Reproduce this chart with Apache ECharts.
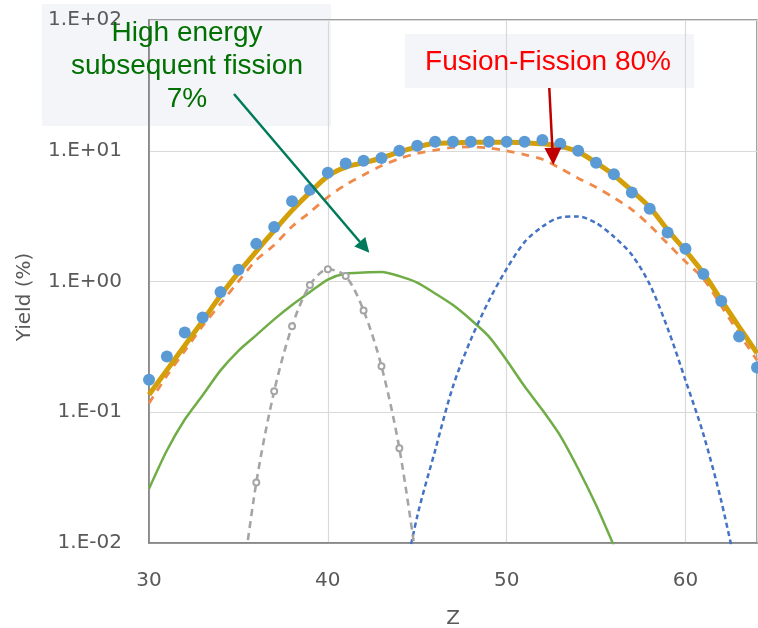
<!DOCTYPE html>
<html>
<head>
<meta charset="utf-8">
<script src="https://cdn.jsdelivr.net/npm/echarts@6/dist/echarts.min.js"></script>
<style>html,body{margin:0;padding:0;background:#fff;}#chart{width:758px;height:628px;}</style>
</head>
<body>
<div id="chart"></div>
<script>
// ---- data ----
const zExp = [30,31,32,33,34,35,36,37,38,39,40,41,42,43,44,45,46,47,48,49,50,51,52,53,54,55,56,57,58,59,60,61,62,63,64];
const yieldExp = [0.177,0.267,0.407,0.53,0.83,1.23,1.94,2.61,4.11,5.04,6.8,8.0,8.4,8.8,10.0,10.9,11.7,11.7,11.7,11.7,11.7,11.7,12.1,11.3,10.0,8.1,6.6,4.8,3.6,2.37,1.78,1.14,0.71,0.38,0.22];
const sumFit = [0.136,0.21,0.324,0.50,0.78,1.17,1.70,2.45,3.5,4.8,6.4,7.5,8.1,8.8,9.8,10.7,11.4,11.5,11.6,11.6,11.6,11.5,11.3,10.8,9.8,8.1,6.5,4.95,3.7,2.48,1.72,1.16,0.72,0.45,0.283];
const fusionFission = [0.117,0.19,0.295,0.457,0.676,1.0,1.46,1.9,2.63,3.39,4.42,5.5,6.53,7.67,8.71,9.55,10.1,10.6,10.7,10.5,10.0,9.33,8.6,7.33,6.17,5.25,4.37,3.55,2.69,1.95,1.42,1.05,0.65,0.40,0.25];
const zHigh = [30,31,32,33,34,35,36,37,38,39,40,41,42,43,44,45,46,47,48,49,50,51,52,53,54,55,56,57];
const highEnergy = [0.026,0.051,0.088,0.135,0.209,0.295,0.389,0.513,0.66,0.83,1.035,1.15,1.17,1.18,1.10,0.98,0.81,0.66,0.51,0.38,0.25,0.158,0.104,0.066,0.037,0.0195,0.0095,0.0045];
const zGray = [35,36,37,38,39,40,41,42,43,44,45];
const grayComp = [0.003,0.029,0.145,0.455,0.94,1.24,1.10,0.60,0.225,0.053,0.0066];
const zBlue = [44,45,46,47,48,49,50,51,52,53,54,55,56,57,58,59,60,61,62,63];
const blueComp = [0.0035,0.016,0.051,0.158,0.36,0.71,1.25,2.0,2.63,3.09,3.14,2.8,2.2,1.6,0.95,0.44,0.176,0.068,0.021,0.005];
const xTicks = [30,40,50,60];
const xTickLabels = ['30','40','50','60'];
const yTicks = [0.01,0.1,1,10,100];
const yTickLabels = ['1.E-02','1.E-01','1.E+00','1.E+01','1.E+02'];

const pair = (xs, ys) => xs.map((x, i) => [x, ys[i]]);

const chart = echarts.init(document.getElementById('chart'), null, {renderer: 'canvas'});
const axisFont = '"DejaVu Sans", sans-serif';
const option = {
  animation: false,
  backgroundColor: '#ffffff',
  grid: {left: 149, right: 1, top: 20, bottom: 85, outerBoundsMode: 'none', containLabel: false,
         show: true, borderColor: '#808080', borderWidth: 1.5, backgroundColor: 'transparent'},
  xAxis: {
    type: 'value', min: 30, max: 64, interval: 10,
    name: 'Z', nameLocation: 'middle', nameGap: 66,
    nameTextStyle: {color: '#595959', fontSize: 20, fontFamily: axisFont},
    axisLine: {show: true, lineStyle: {color: '#808080', width: 1.5}},
    axisTick: {show: false},
    splitLine: {show: true, lineStyle: {color: '#d9d9d9', width: 1.2}},
    axisLabel: {
      color: '#595959', fontSize: 20, fontFamily: axisFont, margin: 28, showMaxLabel: false,
      formatter: v => { const i = xTicks.indexOf(v); return i >= 0 ? xTickLabels[i] : ''; }
    }
  },
  yAxis: {
    type: 'log', logBase: 10, min: 0.01, max: 100,
    axisLine: {show: true, lineStyle: {color: '#808080', width: 1.5}},
    axisTick: {show: false},
    splitLine: {show: true, lineStyle: {color: '#d9d9d9', width: 1.2}},
    axisLabel: {
      color: '#595959', fontSize: 20, fontFamily: axisFont, margin: 27,
      formatter: v => { const i = yTicks.findIndex(t => Math.abs(Math.log10(t) - Math.log10(v)) < 1e-6); return i >= 0 ? yTickLabels[i] : ''; }
    }
  },
  series: [
    {name: 'High energy', type: 'line', data: pair(zHigh, highEnergy), showSymbol: false, clip: true, smooth: 0.25, z: 3,
     lineStyle: {color: '#70ad47', width: 2.5}},
    {name: 'Blue comp', type: 'line', data: pair(zBlue, blueComp), showSymbol: false, clip: true, smooth: 0.3, z: 3,
     lineStyle: {color: '#4472c4', width: 2.5, type: [5, 3.5]}},
    {name: 'Gray comp', type: 'line', data: pair(zGray, grayComp), clip: true, smooth: 0.3, z: 4,
     symbol: 'emptyCircle', symbolSize: 6, showSymbol: true, showAllSymbol: true,
     itemStyle: {color: '#a5a5a5', borderColor: '#a5a5a5', borderWidth: 1.2},
     lineStyle: {color: '#a5a5a5', width: 2.6, type: [7, 5]}},
    {name: 'Fusion-Fission', type: 'line', data: pair(zExp, fusionFission), showSymbol: false, clip: true, smooth: 0.3, z: 5,
     lineStyle: {color: '#f08a4b', width: 2.8, type: [8, 7]}},
    {name: 'Sum', type: 'line', data: pair(zExp, sumFit), showSymbol: false, clip: true, smooth: 0.3, z: 6,
     lineStyle: {color: '#d4a00a', width: 5}},
    {name: 'Exp', type: 'scatter', data: pair(zExp, yieldExp), symbolSize: 12, z: 7,
     itemStyle: {color: '#5b9bd5', opacity: 1}}
  ],
  graphic: [
    {type: 'rect', z: -10, silent: true, shape: {x: 42, y: 4, width: 289, height: 122}, style: {fill: '#f3f5f9'}},
    {type: 'rect', z: -10, silent: true, shape: {x: 405, y: 34, width: 289, height: 54}, style: {fill: '#f3f5f9'}},
    {type: 'text', z: 100, x: 25, y: 297, rotation: Math.PI / 2,
     style: {text: 'Yield (%)', fill: '#595959', font: '20px "DejaVu Sans", sans-serif', textAlign: 'center', textVerticalAlign: 'middle'}},
    {type: 'text', z: 100, x: 187, y: 17,
     style: {text: 'High energy\nsubsequent fission\n7%', fill: '#007000', font: '28px "Liberation Sans", Arial, sans-serif', lineHeight: 33, textAlign: 'center', textVerticalAlign: 'top'}},
    {type: 'text', z: 100, x: 548, y: 62,
     style: {text: 'Fusion-Fission 80%', fill: '#ff0000', font: '28px "Liberation Sans", Arial, sans-serif', textAlign: 'center', textVerticalAlign: 'middle'}},
    {type: 'line', z: 100, shape: {x1: 234, y1: 94, x2: 360, y2: 242}, style: {stroke: '#007a5a', lineWidth: 2.5}},
    {type: 'polygon', z: 100, shape: {points: [[369.3, 252.7], [354.3, 246.5], [365.3, 237.0]]}, style: {fill: '#007a5a'}},
    {type: 'line', z: 100, shape: {x1: 549.3, y1: 88, x2: 552.4, y2: 149}, style: {stroke: '#c00000', lineWidth: 2.5}},
    {type: 'polygon', z: 100, shape: {points: [[553.3, 165], [544.4, 148], [561.4, 147.4]]}, style: {fill: '#c00000'}}
  ]
};
chart.setOption(option);
</script>
</body>
</html>
